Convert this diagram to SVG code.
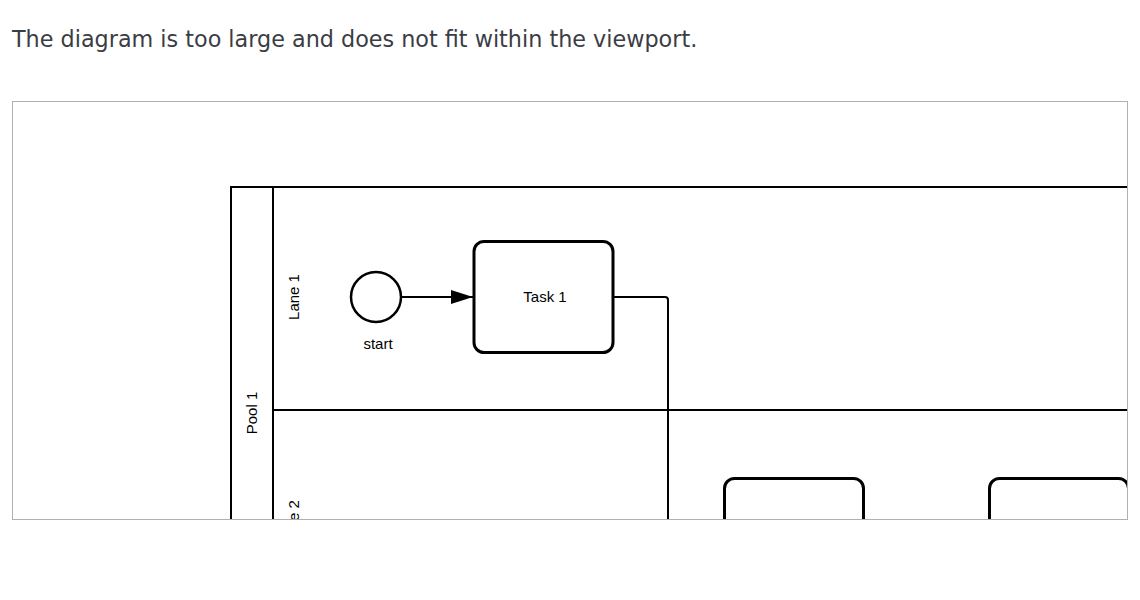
<svg xmlns="http://www.w3.org/2000/svg" width="1140" height="600" viewBox="0 0 1140 600">
<style>
.hdr{font-family:"DejaVu Sans",sans-serif;font-size:22.3px;fill:#3b3d45}
.lbl{font-family:"Liberation Sans",Arial,sans-serif;font-size:15px;fill:#000}
.ln{stroke:#000;stroke-width:2;fill:none}
.task{stroke:#000;stroke-width:3;fill:#fff}
</style>
<defs>
<clipPath id="vp"><rect x="13" y="102" width="1114" height="417"/></clipPath>
<marker id="arr" markerWidth="22" markerHeight="16" refX="22" refY="8" orient="auto" markerUnits="userSpaceOnUse"><path d="M0,1 L22,8 L0,15 Z" fill="#000"/></marker>
</defs>
<rect width="1140" height="600" fill="#fff"/>
<text class="hdr" x="12" y="47">The diagram is too large and does not fit within the viewport.</text>
<rect x="12.5" y="101.5" width="1115" height="418" fill="#fff" stroke="#b0b0b0" stroke-width="1"/>
<g clip-path="url(#vp)">
<g id="pool1">
<path class="ln" d="M231,600 V187 H1140 M273,187 V600"/>
<text class="lbl" transform="translate(257,413) rotate(-90)" text-anchor="middle">Pool 1</text>
</g>
<g id="lane1">
<path class="ln" d="M273,410 H1140"/>
<text class="lbl" transform="translate(299,297) rotate(-90)" text-anchor="middle">Lane 1</text>
</g>
<g id="lane2">
<text class="lbl" transform="translate(299,523) rotate(-90)" text-anchor="middle">Lane 2</text>
</g>
<g id="start">
<circle cx="376" cy="297" r="25" fill="#fff" stroke="#000" stroke-width="2.5"/>
<text class="lbl" x="378" y="349" text-anchor="middle">start</text>
</g>
<g id="task1">
<rect class="task" x="474" y="241.5" width="139" height="111" rx="10"/>
<text class="lbl" x="545" y="302" text-anchor="middle">Task 1</text>
</g>
<g id="task2">
<rect class="task" x="724.5" y="478.5" width="139" height="111" rx="10"/>
</g>
<g id="task3">
<rect class="task" x="989.5" y="478.5" width="139" height="111" rx="10"/>
</g>
<g id="connectors">
<path class="ln" d="M401,297 H473" marker-end="url(#arr)"/>
<path class="ln" d="M613,297 H665 Q668,297 668,300 V600"/>
</g>
</g>
</svg>
